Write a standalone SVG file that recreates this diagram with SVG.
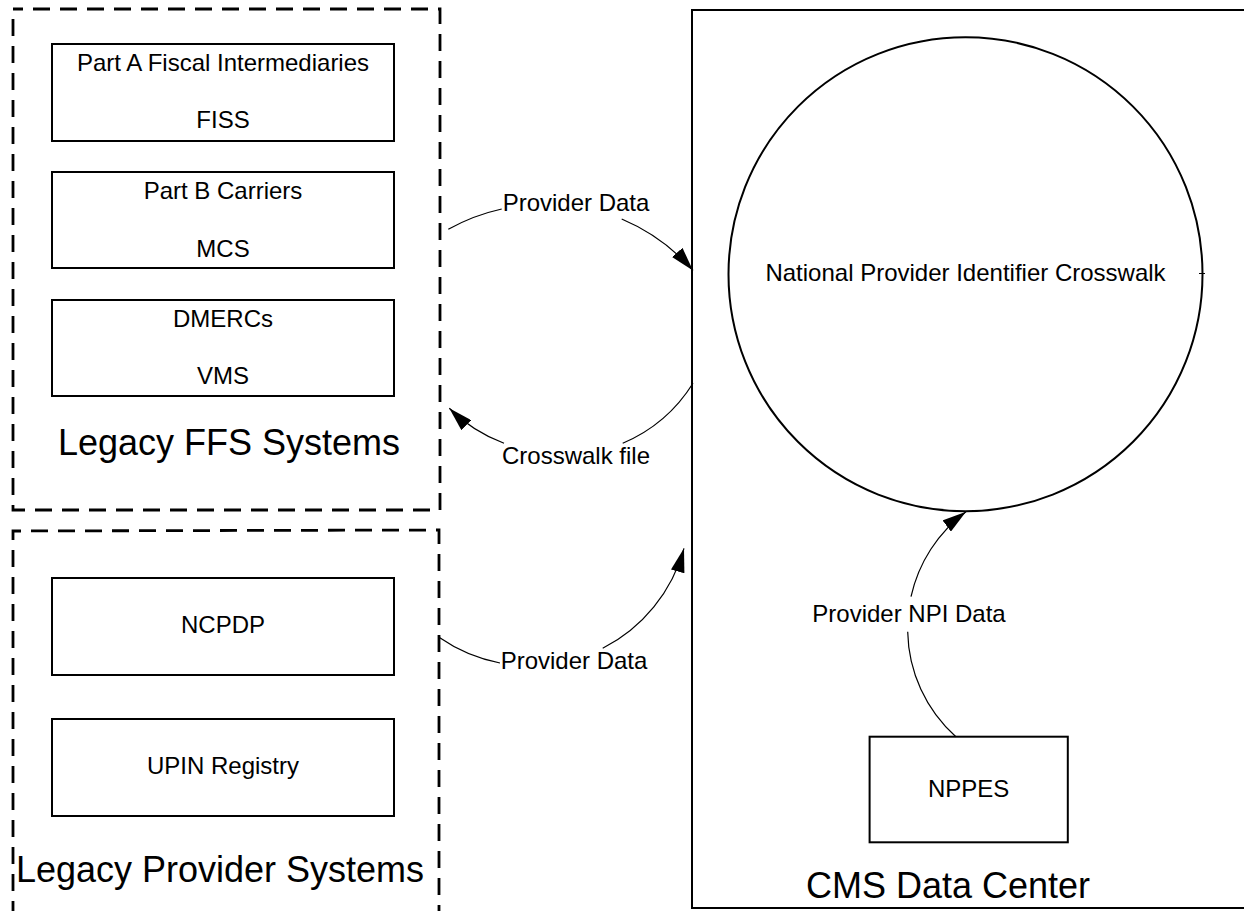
<svg xmlns="http://www.w3.org/2000/svg" width="1244" height="911" viewBox="0 0 1244 911">
<style>
text{font-family:"Liberation Sans",Arial,sans-serif;fill:#000;text-anchor:middle}
.s{font-size:24px}
.b{font-size:36px}
.box{fill:#fff;stroke:#000;stroke-width:2}
.grp{fill:none;stroke:#000;stroke-width:2.8;stroke-dasharray:17 10;stroke-dashoffset:7}
.con{fill:none;stroke:#000;stroke-width:1.2}
</style>
<defs>
<marker id="arrow" markerUnits="userSpaceOnUse" markerWidth="24" markerHeight="14" refX="24" refY="7" orient="auto" viewBox="0 0 24 14">
<path d="M0,0 L24,7 L0,14 z" fill="#000"/>
</marker>
</defs>
<rect width="1244" height="911" fill="#fff"/>

<g id="legacy-ffs">
<rect class="grp" x="13" y="9" width="427" height="501"/>
<text class="b" x="229" y="455">Legacy FFS Systems</text>
</g>
<g id="fiss">
<rect class="box" x="52" y="44" width="342" height="97"/>
<text class="s" x="223" y="71">Part A Fiscal Intermediaries</text>
<text class="s" x="223" y="128">FISS</text>
</g>
<g id="mcs">
<rect class="box" x="52" y="172" width="342" height="96"/>
<text class="s" x="223" y="199">Part B Carriers</text>
<text class="s" x="223" y="257">MCS</text>
</g>
<g id="vms">
<rect class="box" x="52" y="300" width="342" height="96"/>
<text class="s" x="223" y="327">DMERCs</text>
<text class="s" x="223" y="384">VMS</text>
</g>

<g id="legacy-provider">
<path class="grp" d="M13,911 V531 L439,530 V911"/>
<text class="b" x="220" y="882">Legacy Provider Systems</text>
</g>
<g id="ncpdp">
<rect class="box" x="52" y="578" width="342" height="97"/>
<text class="s" x="223" y="633">NCPDP</text>
</g>
<g id="upin">
<rect class="box" x="52" y="719" width="342" height="97"/>
<text class="s" x="223" y="774">UPIN Registry</text>
</g>

<g id="cms">
<rect class="box" x="692" y="10" width="600" height="898"/>
<text class="b" x="948" y="898">CMS Data Center</text>
</g>
<g id="crosswalk">
<circle cx="965.5" cy="274.2" r="237" fill="#fff" stroke="#000" stroke-width="2"/>
<line x1="1199" y1="273.5" x2="1205" y2="273.5" stroke="#000" stroke-width="1"/>
<text class="s" x="965.5" y="281">National Provider Identifier Crosswalk</text>
</g>
<g id="nppes">
<rect class="box" x="869.6" y="736.7" width="198.2" height="105.6"/>
<text class="s" x="968.7" y="797">NPPES</text>
</g>

<g id="connectors">
<path class="con" d="M448.3,229.3 A196,196 0 0 1 501.7,209"/>
<path class="con" d="M621.7,219 A196,196 0 0 1 693,270.5" marker-end="url(#arrow)"/>
<text class="s" x="576" y="211">Provider Data</text>

<path class="con" d="M693,383.3 A153.5,153.5 0 0 1 622.7,443.3"/>
<path class="con" d="M504,443.3 A153.5,153.5 0 0 1 449.3,408.3" marker-end="url(#arrow)"/>
<text class="s" x="576" y="464">Crosswalk file</text>

<path class="con" d="M439,637.3 A160,160 0 0 0 500,663"/>
<path class="con" d="M602.7,648.3 A160,160 0 0 0 684,548.3" marker-end="url(#arrow)"/>
<text class="s" x="574" y="669">Provider Data</text>

<path class="con" d="M955.9,736.7 A144.5,144.5 0 0 1 907.7,631.7"/>
<path class="con" d="M911,596.7 A144.5,144.5 0 0 1 966,511.7" marker-end="url(#arrow)"/>
<text class="s" x="909" y="622">Provider NPI Data</text>
</g>
</svg>
